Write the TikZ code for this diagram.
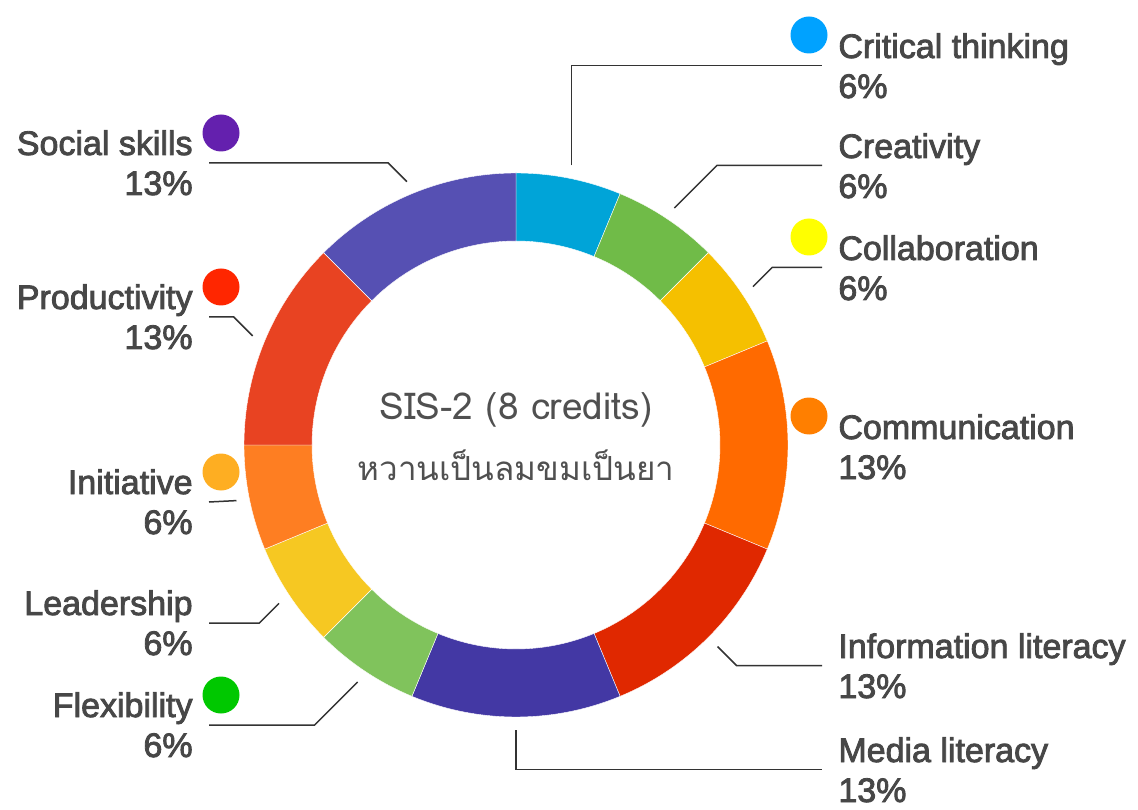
\documentclass[tikz,border=0pt]{standalone}
\usepackage{fontspec}
\setmainfont{Liberation Sans}
\newfontfamily\lblfont{Liberation Sans}[FakeBold=2.5]
\newfontfamily\thaifont[Script=Thai]{Loma}
\usetikzlibrary{calc}
\definecolor{txt}{HTML}{474747}
\definecolor{ctr}{HTML}{505050}
\definecolor{segcrit}{HTML}{00A4D8}
\definecolor{segcrea}{HTML}{70BB48}
\definecolor{segcoll}{HTML}{F5C000}
\definecolor{segcomm}{HTML}{FF6A00}
\definecolor{seginfo}{HTML}{E02800}
\definecolor{segmedia}{HTML}{4338A4}
\definecolor{segflex}{HTML}{80C35C}
\definecolor{seglead}{HTML}{F6C822}
\definecolor{seginit}{HTML}{FE7E22}
\definecolor{segprod}{HTML}{E84322}
\definecolor{segsoc}{HTML}{5650B3}
\definecolor{dotcrit}{HTML}{00A2FF}
\definecolor{dotcoll}{HTML}{FFFF00}
\definecolor{dotcomm}{HTML}{FF7F00}
\definecolor{dotsoc}{HTML}{6420AE}
\definecolor{dotprod}{HTML}{FF2600}
\definecolor{dotinit}{HTML}{FEAE22}
\definecolor{dotflex}{HTML}{00C800}
\begin{document}
\begin{tikzpicture}[x=0.5pt,y=0.5pt,
  lbl/.style={font=\lblfont\fontsize{17}{20}\selectfont, text=txt, inner sep=0pt},
  dot/.style={circle, inner sep=0pt, minimum size=18.5pt},
  leader/.style={draw=black!80, line width=0.75pt}]
\useasboundingbox (0,0) rectangle (1138,809);
\coordinate (c) at (516,364);
% ring
\foreach \a/\b/\col in {67.5/90/segcrit, 45/67.5/segcrea, 22.5/45/segcoll, -22.5/22.5/segcomm,
  -67.5/-22.5/seginfo, -112.5/-67.5/segmedia, -135/-112.5/segflex, -157.5/-135/seglead,
  -180/-157.5/seginit, 135/180/segprod, 90/135/segsoc}
  \fill[\col, draw=white, line width=0.2pt] ($(c)+(\a:272)$) arc[start angle=\a, end angle=\b, radius=272]
    -- ($(c)+(\b:204)$) arc[start angle=\b, end angle=\a, radius=204] -- cycle;
% centre text
\node[font=\thaifont\fontsize{18.5}{22}\selectfont, text=ctr, anchor=base] (title) at (516,390) {SIS-2 (8 credits)};
\node[font=\thaifont\fontsize{16.6}{20}\selectfont, text=ctr, anchor=base] (motto) at (516,329) {หวานเป็นลมขมเป็นยา};
% labels, right
\foreach \k/\yy/\txt/\pc in {crit/751/Critical thinking/6, crea/651/Creativity/6, coll/549/Collaboration/6,
  comm/370/Communication/13, info/151/Information literacy/13, media/47/Media literacy/13}
  {\node[lbl, anchor=base west] (\k) at (838,\yy) {\txt};
   \node[lbl, anchor=base west] (\k-p) at ([yshift=-20pt]\k.base west) {\pc\%};
   \coordinate (e-\k) at ([shift={(-16,-7.5)}]\k.base west);}
% labels, left
\foreach \k/\yy/\txt/\pc in {soc/654/Social skills/13, prod/500/Productivity/13, init/315/Initiative/6,
  lead/194/Leadership/6, flex/92/Flexibility/6}
  {\node[lbl, anchor=base east] (\k) at (193,\yy) {\txt};
   \node[lbl, anchor=base east] (\k-p) at ([yshift=-20pt]\k.base east) {\pc\%};
   \coordinate (e-\k) at ([shift={(16,-8)}]\k.base east);}
% dots
\foreach \k in {crit, coll, comm}
  \node[dot, fill=dot\k] (\k-d) at ([shift={(-29,23)}]\k.base west) {};
\foreach \k in {soc, prod, init, flex}
  \node[dot, fill=dot\k] (\k-d) at ([shift={(28,22)}]\k.base east) {};
% leader lines
\foreach \k/\a in {crit/78.75, crea/56.25, coll/33.75, info/-45, media/-90,
  soc/112.5, prod/157.5, init/-168.75, lead/-146.25, flex/-123.75}
  \coordinate (s-\k) at ($(c)+(\a:285)$);
\draw[leader] (s-crit) |- (e-crit);
\draw[leader] (s-media) |- (e-media);
\draw[leader] (s-init) -- (e-init);
\foreach \k/\s in {crea/1, coll/1, info/1, soc/-1, prod/-1, lead/-1, flex/-1}
  \draw[leader] let \p1=(s-\k), \p2=(e-\k) in
    (s-\k) -- ({\x1+\s*abs(\y2-\y1)},\y2) -- (e-\k);
\end{tikzpicture}
\end{document}
